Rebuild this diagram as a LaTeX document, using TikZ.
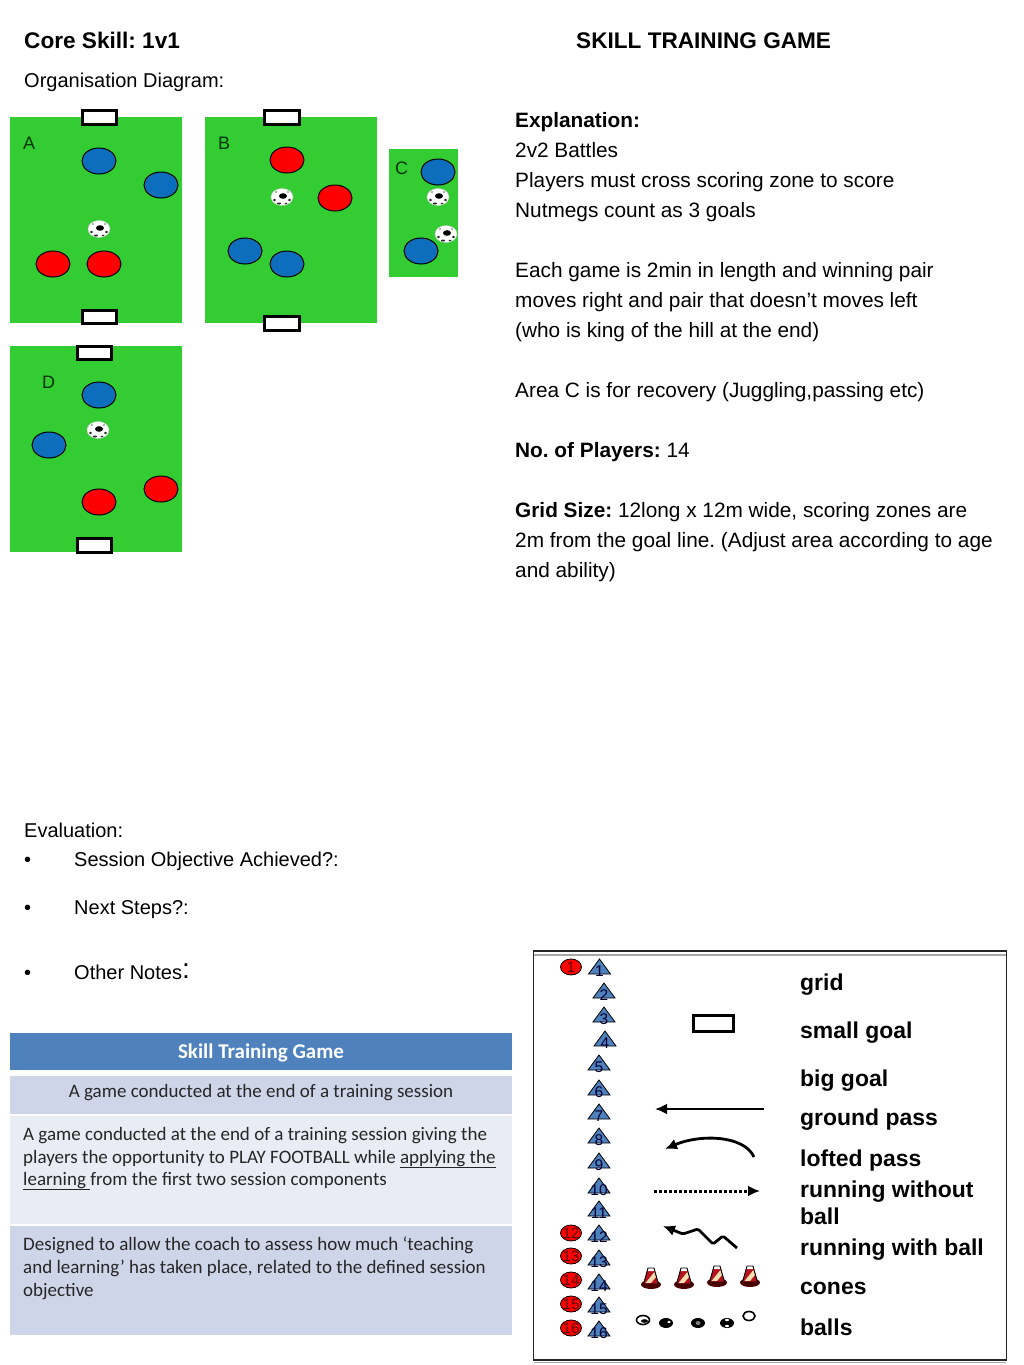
\documentclass[tikz,border=0pt]{standalone}
\usepackage{fontspec}
\setmainfont{Liberation Sans}
\newfontfamily\tablefont{Carlito}
\usetikzlibrary{arrows.meta}
\definecolor{pitchgreen}{HTML}{33CC33}
\definecolor{playerblue}{HTML}{0E6EBE}
\definecolor{playerred}{HTML}{FF0000}
\definecolor{conemark}{HTML}{4F81BD}
\definecolor{headblue}{HTML}{4F81BD}
\definecolor{rowdark}{HTML}{CFD5E8}
\definecolor{rowlight}{HTML}{E9EBF5}
\definecolor{conered}{HTML}{B5121B}
\definecolor{conecream}{HTML}{F3DDB0}
\tikzset{
  x=1pt,y=-1pt,
  body/.style={anchor=base west,inner sep=0pt,font=\fontsize{20.8}{24}\selectfont,text=black},
  bodybold/.style={body,font=\fontsize{20.8}{24}\selectfont\bfseries},
  headbold/.style={body,font=\fontsize{22.6}{26}\selectfont\bfseries},
  evaltext/.style={body,font=\fontsize{20}{24}\selectfont},
  legendlabel/.style={anchor=base west,inner sep=0pt,font=\fontsize{22.95}{28}\selectfont\bfseries},
  tabletext/.style={anchor=base west,inner sep=0pt,font=\tablefont\fontsize{19}{22}\selectfont,text=black!85},
  pitchlabel/.style={anchor=base west,inner sep=0pt,font=\fontsize{18}{20}\selectfont,text=black!80!green},
  pitch/.style={fill=pitchgreen,draw=none},
  goalbox/.style={draw=black,line width=3pt,fill=white},
  bluep/.style={draw=black,line width=1pt,fill=playerblue},
  redp/.style={draw=black,line width=1pt,fill=playerred},
  marker/.style={draw=black,line width=0.8pt,fill=conemark},
  marknum/.style={inner sep=0pt,font=\fontsize{15.5}{15.5}\selectfont,text=black!80!blue},
  rednum/.style={inner sep=0pt,font=\fontsize{15}{15}\selectfont,text=black!65!red},
  redmark/.style={draw=black,line width=0.8pt,fill=playerred},
  arrowline/.style={draw=black,line width=2.8pt,-{Latex[length=12pt,width=11pt]}},
  pics/soccer/.style={code={
    \fill[white,draw=black!20,line width=0.4pt] (0,0) ellipse [x radius=11,y radius=8.5];
    \fill[black] (1,-1) ellipse [x radius=4,y radius=2.8];
    \fill[black!85] (-7.5,3) ellipse [x radius=1.6,y radius=1.2];
    \fill[black!85] (7.5,3) ellipse [x radius=1.6,y radius=1.2];
    \fill[black!85] (-3,6.5) ellipse [x radius=2,y radius=1];
    \fill[black!85] (4,6.5) ellipse [x radius=1.4,y radius=0.9];
    \fill[black!40] (-6,-5) ellipse [x radius=1.2,y radius=1];
    \fill[black!40] (6,-5) ellipse [x radius=1.2,y radius=1];
  }},
  pics/cone/.style={code={
    \fill[black!70!red] (0,-1.5) ellipse [x radius=10,y radius=4.5];
    \fill[conered] (-3,-18) -- (3,-18) -- (7.5,-2) -- (-7.5,-2) -- cycle;
    \fill[conecream] (-5.5,-3) -- (3.4,-14) -- (5,-9) -- (0,-3) -- cycle;
    \fill[white] (-3,-18) -- (3,-18) -- (3.8,-15) -- (-3.8,-15) -- cycle;
    \draw[black,line width=0.9pt] (-3,-18) -- (3,-18) -- (7.5,-2) -- (-7.5,-2) -- cycle;
  }},
}
\begin{document}
\frenchspacing
\begin{tikzpicture}
\useasboundingbox (0,0) rectangle (1024,1365);
% headings
\node[headbold] (core) at (24,48) {Core Skill: 1v1};
\node[headbold] (title) at (576,48) {SKILL TRAINING GAME};
\node[evaltext] (org) at (24,87) {Organisation Diagram:};
% explanation
\node[bodybold] (t1) at (515,127) {Explanation:};
\node[body] (t2) at (515,157) {2v2 Battles};
\node[body] (t3) at (515,187) {Players must cross scoring zone to score};
\node[body] (t4) at (515,217) {Nutmegs count as 3 goals};
\node[body] (t5) at (515,277) {Each game is 2min in length and winning pair};
\node[body] (t6) at (515,307) {moves right and pair that doesn’t moves left};
\node[body] (t7) at (515,337) {(who is king of the hill at the end)};
\node[body] (t8) at (515,397) {Area C is for recovery (Juggling,passing etc)};
\node[body] (t9) at (515,457) {\textbf{No. of Players:} 14};
\node[body] (t10) at (515,517) {\textbf{Grid Size:} 12long x 12m wide, scoring zones are};
\node[body] (t11) at (515,547) {2m from the goal line. (Adjust area according to age};
\node[body] (t12) at (515,577) {and ability)};
% evaluation
\node[evaltext] (e0) at (24,837) {Evaluation:};
\node[evaltext] (b1) at (24,866) {•};
\node[evaltext] (e1) at (74,866) {Session Objective Achieved?:};
\node[evaltext] (b2) at (24,914) {•};
\node[evaltext] (e2) at (74,914) {Next Steps?:};
\node[evaltext] (b3) at (24,979) {•};
\node[evaltext] (e3) at (74,979) {Other Notes\raisebox{1pt}{\fontsize{28}{28}\selectfont:}};
% pitches
\fill[pitch] (10,117) rectangle (182,323);
\fill[pitch] (205,117) rectangle (377,323);
\fill[pitch] (389,149) rectangle (458,277);
\fill[pitch] (10,346) rectangle (182,552);
% goals
\draw[goalbox] (82,110.5) rectangle (116,124);
\draw[goalbox] (82,310) rectangle (116,323.5);
\draw[goalbox] (264,110.5) rectangle (299,124);
\draw[goalbox] (264,316.5) rectangle (299,330);
\draw[goalbox] (77,346.5) rectangle (111,359.5);
\draw[goalbox] (77,538.5) rectangle (111,552);
% pitch labels
\node[pitchlabel] (la) at (23,149) {A};
\node[pitchlabel] (lb) at (218,149) {B};
\node[pitchlabel] (lc) at (395,174) {C};
\node[pitchlabel] (ld) at (42,388) {D};
% players
\foreach \px/\py in {99/161,161/185,287/264,245/251,438/172,421/251,99/395,49/445}
  \draw[bluep] (\px,\py) ellipse [x radius=17,y radius=13];
\foreach \px/\py in {53/264,104/264,287/160,335/198,99/502,161/489}
  \draw[redp] (\px,\py) ellipse [x radius=17,y radius=13];
% balls
\foreach \px/\py in {99/229,282/197,438/197,446/234,98/430}
  \pic at (\px,\py) {soccer};
% table
\fill[headblue] (10,1033) rectangle (512,1070);
\fill[rowdark] (10,1076) rectangle (512,1114);
\fill[rowlight] (10,1116) rectangle (512,1224);
\fill[rowdark] (10,1226) rectangle (512,1335);
\node[anchor=base,inner sep=0pt,text=white,font=\tablefont\fontsize{21}{24}\selectfont\bfseries] (th) at (261,1058) {Skill Training Game};
\node[tabletext,anchor=base] (r1) at (261,1097) {A game conducted at the end of a training session};
\node[tabletext] (r2a) at (23,1140) {A game conducted at the end of a training session giving the};
\node[tabletext] (r2b) at (23,1163) {players the opportunity to PLAY FOOTBALL while \underline{applying the}};
\node[tabletext] (r2c) at (23,1185) {\underline{learning\ }from the first two session components};
\node[tabletext] (r3a) at (23,1250) {Designed to allow the coach to assess how much ‘teaching};
\node[tabletext] (r3b) at (23,1273) {and learning’ has taken place, related to the defined session};
\node[tabletext] (r3c) at (23,1296) {objective};
% legend box
\draw[black!35,line width=1.5pt] (534,955) -- (1006,955);
\draw[black!35,line width=1.5pt] (534,1362.5) -- (1006,1362.5);
\draw[black!85,line width=1.2pt] (533.5,951) rectangle (1006.5,1360);
% legend markers
\foreach \n/\mx/\my in {1/599.5/974,2/604/998,3/604/1022,4/605/1046,5/599/1070,6/599/1095,7/599/1119,8/599/1143,9/599/1168,10/599/1193,11/599/1216,12/599/1240,13/599/1265,14/599/1289,15/599/1312,16/599/1336}{
  \draw[marker] (\mx-11,\my) -- (\mx,\my-15) -- (\mx+11,\my) -- cycle;
  \node[marknum] (m\n) at (\mx,\my-3) {\n};
}
\foreach \n/\my in {1/967,12/1233,13/1256,14/1280,15/1304,16/1328}{
  \draw[redmark] (571,\my) ellipse [x radius=10.5,y radius=8];
  \node[rednum] (r\n) at (571,\my) {\n};
}
% legend samples
\draw[black,line width=3pt,fill=white] (693,1015.5) rectangle (733.5,1031);
\coordinate (g1) at (764,1109);
\coordinate (g2) at (655,1109);
\draw[arrowline] (g1) -- (g2);
\coordinate (l1) at (754,1157);
\coordinate (l2) at (665,1149);
\draw[arrowline] (l1) .. controls (744,1135) and (700,1134) .. (l2);
\coordinate (d1) at (654,1191);
\coordinate (d2) at (760,1191);
\draw[arrowline,line width=3pt,dash pattern=on 2.6pt off 2.4pt] (d1) -- (d2);
\coordinate (w1) at (737,1248);
\coordinate (w2) at (663,1226);
\draw[arrowline,line join=round,rounded corners=1.5pt] (w1) -- (723,1236) -- (713,1244) -- (698,1229) -- (683,1234) -- (w2);
% cones
\foreach \px/\py in {651/1286,684/1286,717/1284,750/1284}
  \pic at (\px,\py) {cone};
% small balls
\draw[black,line width=1.6pt,fill=white] (643,1320) ellipse [x radius=6.5,y radius=4.5];
\fill[black] (644.5,1321) ellipse [x radius=3.5,y radius=1.8];
\draw[black,line width=1.6pt,fill=white] (749,1316) ellipse [x radius=6,y radius=4.5];
\fill[black] (666,1323) ellipse [x radius=7,y radius=5];
\fill[white] (669,1322) ellipse [x radius=1.8,y radius=1.3];
\fill[black] (698,1323) ellipse [x radius=7,y radius=5];
\fill[black!50] (698,1323) ellipse [x radius=2.5,y radius=2];
\fill[black] (727,1323) ellipse [x radius=7,y radius=5];
\fill[white] (727,1320) ellipse [x radius=2,y radius=1.2];
\fill[white] (727,1326) ellipse [x radius=2,y radius=1.2];
% legend labels
\node[legendlabel] (k1) at (800,990) {grid};
\node[legendlabel] (k2) at (800,1038) {small goal};
\node[legendlabel] (k3) at (800,1086) {big goal};
\node[legendlabel] (k4) at (800,1125) {ground pass};
\node[legendlabel] (k5) at (800,1166) {lofted pass};
\node[legendlabel] (k6) at (800,1197) {running without};
\node[legendlabel] (k6b) at (800,1224) {ball};
\node[legendlabel] (k7) at (800,1255) {running with ball};
\node[legendlabel] (k8) at (800,1294) {cones};
\node[legendlabel] (k9) at (800,1335) {balls};
\end{tikzpicture}
\end{document}
